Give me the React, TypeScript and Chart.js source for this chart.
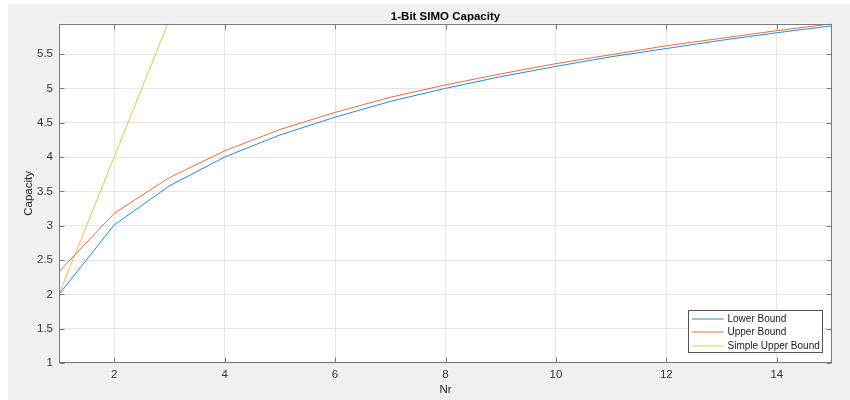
import React, { useEffect, useRef } from "react";
import { Chart, registerables } from "chart.js";

Chart.register(...registerables);

const nr = [1, 2, 3, 4, 5, 6, 7, 8, 9, 10, 11, 12, 13, 14, 15];
const lowerBound = [2.0, 3.01, 3.58, 4.0, 4.32, 4.58, 4.81, 5.0, 5.17, 5.32, 5.46, 5.58, 5.7, 5.81, 5.91];
const upperBound = [2.33, 3.18, 3.7, 4.09, 4.4, 4.65, 4.87, 5.05, 5.21, 5.36, 5.49, 5.62, 5.73, 5.84, 5.94];
const simpleNr = [1, 2, 3];
const simpleUpperBound = [2, 4, 6];
const xTicks = [2, 4, 6, 8, 10, 12, 14];
const yTicks = [1, 1.5, 2, 2.5, 3, 3.5, 4, 4.5, 5, 5.5];
const seriesNames = ["Lower Bound", "Upper Bound", "Simple Upper Bound"];
const seriesColors = ["#2a8ad0", "#e0703f", "#f0c050"];

const FONT = "'Liberation Sans', Arial, Helvetica, sans-serif";

const matlabPlugin = {
  id: "matlabFrame",
  beforeDraw(chart: any) {
    const { ctx, chartArea: a } = chart;
    ctx.save();
    ctx.fillStyle = "#ffffff";
    ctx.fillRect(a.left, a.top, a.right - a.left, a.bottom - a.top);
    ctx.restore();
  },
  afterDraw(chart: any) {
    const { ctx, chartArea: a, scales } = chart;
    const tl = 5;
    const L = Math.round(a.left) + 0.5;
    const R = Math.round(a.right) - 0.5;
    const T = Math.round(a.top) + 0.5;
    const B = Math.round(a.bottom) - 0.5;
    ctx.save();
    ctx.strokeStyle = "#7a7a7a";
    ctx.lineWidth = 1;
    ctx.beginPath();
    xTicks.forEach((v) => {
      const px = Math.round(scales.x.getPixelForValue(v)) + 0.5;
      ctx.moveTo(px, B);
      ctx.lineTo(px, B - tl);
      ctx.moveTo(px, T);
      ctx.lineTo(px, T + tl);
    });
    yTicks.forEach((v) => {
      const py = Math.round(scales.y.getPixelForValue(v)) + 0.5;
      ctx.moveTo(L, py);
      ctx.lineTo(L + tl, py);
      ctx.moveTo(R, py);
      ctx.lineTo(R - tl, py);
    });
    ctx.stroke();
    ctx.strokeRect(L, T, R - L, B - T);

    // legend box
    const w = 134;
    const h = 42;
    const x = Math.round(a.right) - 10 - w + 0.5;
    const y = Math.round(a.bottom) - 11 - h + 0.5;
    ctx.fillStyle = "#ffffff";
    ctx.fillRect(x, y, w, h);
    ctx.strokeStyle = "#555555";
    ctx.strokeRect(x, y, w, h);
    const rows = [8, 21.5, 35];
    ctx.font = `10px ${FONT}`;
    ctx.textBaseline = "middle";
    ctx.textAlign = "left";
    seriesNames.forEach((name, i) => {
      const ry = Math.round(y + rows[i]);
      ctx.strokeStyle = seriesColors[i];
      ctx.beginPath();
      ctx.moveTo(x + 3.5, ry);
      ctx.lineTo(x + 35, ry);
      ctx.stroke();
      ctx.fillStyle = "#1a1a1a";
      ctx.fillText(name, x + 39, ry);
    });
    ctx.restore();
  },
};

export default function App() {
  const ref = useRef<HTMLCanvasElement | null>(null);

  useEffect(() => {
    if (!ref.current) return;
    const chart = new Chart(ref.current, {
      type: "line",
      data: {
        datasets: [
          {
            label: seriesNames[0],
            data: nr.map((n, i) => ({ x: n, y: lowerBound[i] })),
            borderColor: seriesColors[0],
            backgroundColor: seriesColors[0],
          },
          {
            label: seriesNames[1],
            data: nr.map((n, i) => ({ x: n, y: upperBound[i] })),
            borderColor: seriesColors[1],
            backgroundColor: seriesColors[1],
          },
          {
            label: seriesNames[2],
            data: simpleNr.map((n, i) => ({ x: n, y: simpleUpperBound[i] })),
            borderColor: seriesColors[2],
            backgroundColor: seriesColors[2],
          },
        ],
      },
      options: {
        responsive: false,
        animation: false,
        events: [],
        layout: { padding: { left: 0, right: 18, top: 0, bottom: 0 } },
        elements: {
          point: { radius: 0 },
          line: { borderWidth: 1, tension: 0 },
        },
        plugins: {
          legend: { display: false },
          tooltip: { enabled: false },
          title: {
            display: true,
            text: "1-Bit SIMO Capacity",
            color: "#000000",
            fullSize: false,
            font: { family: FONT, size: 11.5, weight: "bold" },
            padding: { top: 6, bottom: 0 },
          },
        },
        scales: {
          x: {
            type: "linear",
            min: 1,
            max: 15,
            afterBuildTicks: (s: any) => {
              s.ticks = xTicks.map((v) => ({ value: v }));
            },
            afterFit: (s: any) => {
              s.height = 37;
            },
            ticks: {
              color: "#333333",
              font: { family: FONT, size: 11.5 },
              padding: 5,
              maxRotation: 0,
              callback: (v: any) => String(v),
            },
            grid: { color: "#e6e6e6", drawTicks: false, lineWidth: 1 },
            border: { display: false },
            title: {
              display: true,
              text: "Nr",
              color: "#262626",
              font: { family: FONT, size: 11.5 },
              padding: { top: 0, bottom: 3 },
            },
          },
          y: {
            type: "linear",
            min: 1,
            max: 5.94,
            afterBuildTicks: (s: any) => {
              s.ticks = yTicks.map((v) => ({ value: v }));
            },
            afterFit: (s: any) => {
              s.width = 51;
            },
            ticks: {
              color: "#333333",
              font: { family: FONT, size: 11.5 },
              padding: 6,
              callback: (v: any) => String(v),
            },
            grid: { color: "#e6e6e6", drawTicks: false, lineWidth: 1 },
            border: { display: false },
            title: {
              display: true,
              text: "Capacity",
              color: "#262626",
              font: { family: FONT, size: 11.5 },
              padding: { top: 14, bottom: 0 },
            },
          },
        },
      },
      plugins: [matlabPlugin],
    });
    return () => chart.destroy();
  }, []);

  return (
    <div
      style={{
        position: "fixed",
        left: 8,
        top: 4,
        width: 842,
        height: 396,
        background: "#f0f0f0",
      }}
    >
      <canvas ref={ref} width={842} height={396} style={{ display: "block" }} />
    </div>
  );
}
